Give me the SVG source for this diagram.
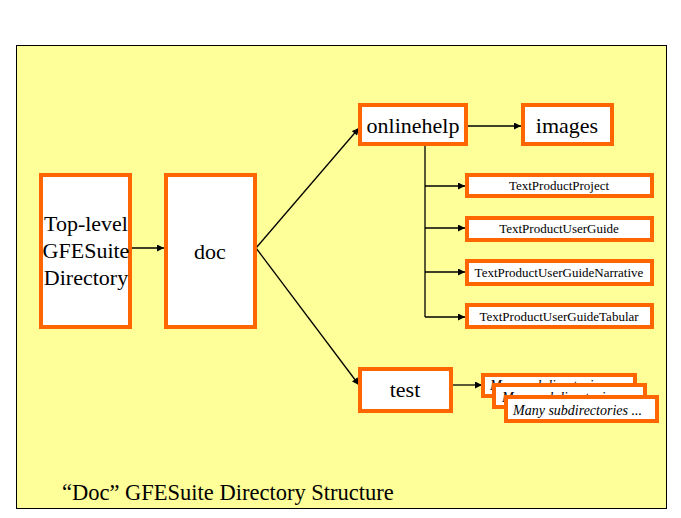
<svg xmlns="http://www.w3.org/2000/svg" width="681" height="518" viewBox="0 0 681 518">
<defs>
<marker id="ah" viewBox="0 0 10 10" refX="10" refY="5" markerWidth="8" markerHeight="7" markerUnits="userSpaceOnUse" orient="auto">
<path d="M0,0 L10,5 L0,10 Z" fill="#000"/>
</marker>
</defs>
<rect x="0" y="0" width="681" height="518" fill="#fff"/>
<rect x="16.5" y="45.5" width="650" height="463" fill="#FFFF99" stroke="#000" stroke-width="1"/>
<g id="connectors" stroke="#000" stroke-width="1.3" fill="none">
<line x1="131" y1="248" x2="164" y2="248" marker-end="url(#ah)"/>
<line x1="256" y1="248" x2="359" y2="128" marker-end="url(#ah)"/>
<line x1="256" y1="248" x2="359" y2="385" marker-end="url(#ah)"/>
<line x1="467" y1="126" x2="521" y2="126" marker-end="url(#ah)"/>
<path d="M425,145 V317"/>
<line x1="425" y1="186" x2="465" y2="186" marker-end="url(#ah)"/>
<line x1="425" y1="228" x2="465" y2="228" marker-end="url(#ah)"/>
<line x1="425" y1="272" x2="465" y2="272" marker-end="url(#ah)"/>
<line x1="425" y1="317" x2="465" y2="317" marker-end="url(#ah)"/>
<line x1="452" y1="385" x2="482" y2="385" marker-end="url(#ah)"/>
</g>
<g id="toplevel">
<rect x="41" y="175" width="89" height="152" fill="#fff" stroke="#FF6600" stroke-width="4"/>
<text x="86" y="231" text-anchor="middle" font-family="Liberation Serif" font-size="22">Top-level</text>
<text x="86" y="258" text-anchor="middle" font-family="Liberation Serif" font-size="22">GFESuite</text>
<text x="86" y="285" text-anchor="middle" font-family="Liberation Serif" font-size="22">Directory</text>
</g>
<g id="doc">
<rect x="166" y="175" width="89" height="152" fill="#fff" stroke="#FF6600" stroke-width="4"/>
<text x="210" y="259" text-anchor="middle" font-family="Liberation Serif" font-size="22">doc</text>
</g>
<g id="onlinehelp">
<rect x="360" y="105" width="106" height="39" fill="#fff" stroke="#FF6600" stroke-width="4"/>
<text x="413" y="133" text-anchor="middle" font-family="Liberation Serif" font-size="22">onlinehelp</text>
</g>
<g id="images">
<rect x="523" y="105" width="89" height="39" fill="#fff" stroke="#FF6600" stroke-width="4"/>
<text x="567" y="133" text-anchor="middle" font-family="Liberation Serif" font-size="22">images</text>
</g>
<g id="textproductproject">
<rect x="467" y="175" width="185" height="21" fill="#fff" stroke="#FF6600" stroke-width="4"/>
<text x="559" y="190" text-anchor="middle" font-family="Liberation Serif" font-size="13">TextProductProject</text>
</g>
<g id="textproductuserguide">
<rect x="467" y="218" width="185" height="22" fill="#fff" stroke="#FF6600" stroke-width="4"/>
<text x="559" y="233" text-anchor="middle" font-family="Liberation Serif" font-size="13">TextProductUserGuide</text>
</g>
<g id="textproductuserguidenarrative">
<rect x="467" y="261" width="185" height="23" fill="#fff" stroke="#FF6600" stroke-width="4"/>
<text x="559" y="277" text-anchor="middle" font-family="Liberation Serif" font-size="13">TextProductUserGuideNarrative</text>
</g>
<g id="textproductuserguidetabular">
<rect x="467" y="305" width="185" height="22" fill="#fff" stroke="#FF6600" stroke-width="4"/>
<text x="559" y="321" text-anchor="middle" font-family="Liberation Serif" font-size="13">TextProductUserGuideTabular</text>
</g>
<g id="test">
<rect x="360" y="369" width="91" height="42" fill="#fff" stroke="#FF6600" stroke-width="4"/>
<text x="405" y="397" text-anchor="middle" font-family="Liberation Serif" font-size="22">test</text>
</g>
<g id="subdirs1">
<rect x="483" y="375" width="152" height="21" fill="#fff" stroke="#FF6600" stroke-width="4"/>
<text x="490" y="390" font-family="Liberation Serif" font-size="14" font-style="italic">Many subdirectories ...</text>
</g>
<g id="subdirs2">
<rect x="494" y="385" width="151" height="22" fill="#fff" stroke="#FF6600" stroke-width="4"/>
<text x="502" y="402" font-family="Liberation Serif" font-size="14" font-style="italic">Many subdirectories ...</text>
</g>
<g id="subdirs3">
<rect x="506" y="397" width="151" height="24" fill="#fff" stroke="#FF6600" stroke-width="4"/>
<text x="513" y="415" font-family="Liberation Serif" font-size="14" font-style="italic">Many subdirectories ...</text>
</g>
<text x="62" y="500" font-family="Liberation Serif" font-size="22.5">&#8220;Doc&#8221; GFESuite Directory Structure</text>
</svg>
